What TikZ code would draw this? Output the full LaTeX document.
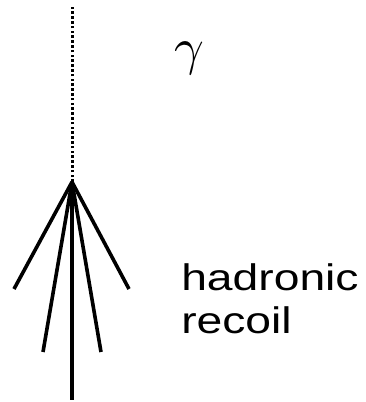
\documentclass[tikz,border=0pt]{standalone}
\usepackage{fontspec}
\setmainfont{Liberation Sans}
\usetikzlibrary{positioning}

\tikzset{
  track/.style={line width=3.6pt},
  photon/.style={line width=3pt, dash pattern=on 2.6pt off 2.2pt},
  label/.style={inner sep=0pt, anchor=base west}
}

\begin{document}
\begin{tikzpicture}[x=1pt, y=-1pt]
  \useasboundingbox (0,0) rectangle (366,402);
  % vertex and track ends
  \coordinate (vtx) at (72,182);
  \coordinate (top) at (72,6);
  \coordinate (t1) at (14,289);
  \coordinate (t2) at (43,352);
  \coordinate (t3) at (72,400);
  \coordinate (t4) at (101,352);
  \coordinate (t5) at (129,289);
  \draw[photon] (vtx) -- (top);
  \foreach \e in {t1,t2,t3,t4,t5}
    \draw[track] (vtx) -- (\e);
  % labels
  \node[inner sep=0pt, scale=5.2] (gam) at (189,58) {$\gamma$};
  \node[label, xscale=1.25] (had) at (181,290) {\fontsize{37}{44}\selectfont hadronic};
  \node[label, xscale=1.25] (rec) at (181,333) {\fontsize{37}{44}\selectfont recoil};
\end{tikzpicture}
\end{document}
